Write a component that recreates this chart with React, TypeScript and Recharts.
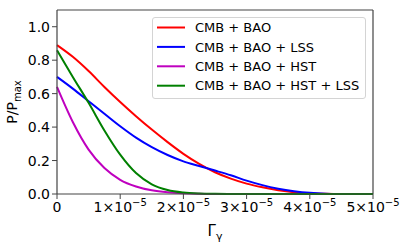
import React from 'react';
import { LineChart, Line, XAxis, YAxis, Legend, ReferenceLine, Label } from 'recharts';

// Γγ grid (step 0.25e-5)
const gammaValues = [
  0, 0.25e-5, 0.5e-5, 0.75e-5, 1.0e-5, 1.25e-5, 1.5e-5, 1.75e-5, 2.0e-5, 2.25e-5, 2.5e-5,
  2.75e-5, 3.0e-5, 3.25e-5, 3.5e-5, 3.75e-5, 4.0e-5, 4.25e-5, 4.5e-5, 4.75e-5, 5.0e-5,
];

const cmbBao = [
  0.89, 0.82, 0.735, 0.64, 0.55, 0.465, 0.385, 0.31, 0.24, 0.18, 0.13,
  0.092, 0.062, 0.04, 0.023, 0.011, 0.004, 0.001, 0, 0, 0,
];
const cmbBaoLss = [
  0.70, 0.63, 0.555, 0.48, 0.405, 0.337, 0.28, 0.233, 0.195, 0.167, 0.14,
  0.112, 0.08, 0.053, 0.032, 0.017, 0.007, 0.002, 0.0005, 0, 0,
];
const cmbBaoHst = [
  0.64, 0.43, 0.265, 0.155, 0.085, 0.045, 0.022, 0.01, 0.004, 0.001, 0,
  0, 0, 0, 0, 0, 0, 0, 0, 0, 0,
];
const cmbBaoHstLss = [
  0.86, 0.70, 0.545, 0.38, 0.235, 0.125, 0.058, 0.024, 0.009, 0.003, 0.001,
  0, 0, 0, 0, 0, 0, 0, 0, 0, 0,
];

const xTicks = [0, 1e-5, 2e-5, 3e-5, 4e-5, 5e-5];
const yTicks = [0, 0.2, 0.4, 0.6, 0.8, 1.0];

const series = [
  { key: 'cmbBao', name: 'CMB + BAO', color: '#ff0000' },
  { key: 'cmbBaoLss', name: 'CMB + BAO + LSS', color: '#0000ff' },
  { key: 'cmbBaoHst', name: 'CMB + BAO + HST', color: '#bf00bf' },
  { key: 'cmbBaoHstLss', name: 'CMB + BAO + HST + LSS', color: '#008000' },
];

const chartData = gammaValues.map((g, i) => ({
  gamma: g,
  cmbBao: cmbBao[i],
  cmbBaoLss: cmbBaoLss[i],
  cmbBaoHst: cmbBaoHst[i],
  cmbBaoHstLss: cmbBaoHstLss[i],
}));

const FONT = 'DejaVu Sans, sans-serif';
const AXIS = '#444';

const XTick = (props: any) => {
  const { x, y, payload } = props;
  const k = Math.round(payload.value * 1e5);
  return (
    <text x={x} y={y + 11} textAnchor="middle" fontFamily={FONT} fontSize={14} fill="#000">
      {k === 0 ? '0' : (
        <>
          {`${k}×10`}
          <tspan dy={-6} fontSize={10}>−5</tspan>
        </>
      )}
    </text>
  );
};

// keep legend in series order (recharts sorts the payload by name otherwise)
const renderLegend = () => (
  <div
    style={{
      width: 214,
      height: 82,
      boxSizing: 'border-box',
      border: '1px solid #d4d4d4',
      borderRadius: 3,
      background: 'rgba(255,255,255,0.85)',
    }}
  >
    <svg width={212} height={80}>
      {series.map((s, i) => {
        const cy = 9.5 + i * 19.4;
        return (
          <g key={s.key}>
            <line x1={4} x2={32} y1={cy} y2={cy} stroke={s.color} strokeWidth={2} />
            <text x={42} y={cy} dy="0.36em" fontFamily={FONT} fontSize={13} fill="#000">
              {s.name}
            </text>
          </g>
        );
      })}
    </svg>
  </div>
);

export default function App() {
  return (
    <div style={{ position: 'absolute', left: 0, top: 0, width: 409, height: 250, background: '#fff' }}>
      <LineChart
        width={409}
        height={250}
        data={chartData}
        margin={{ top: 10, right: 36, bottom: 26, left: 7 }}
      >
        <XAxis
          dataKey="gamma"
          type="number"
          domain={[0, 5e-5]}
          ticks={xTicks}
          interval={0}
          height={30}
          tick={<XTick />}
          tickSize={5}
          stroke={AXIS}
          axisLine={{ stroke: AXIS, strokeWidth: 1.2 }}
          tickLine={{ stroke: AXIS }}
        >
          <Label
            content={(lp: any) => {
              const vb = lp.viewBox || { x: 57, y: 194, width: 316 };
              const cx = vb.x + vb.width / 2;
              return (
                <text x={cx} y={236} textAnchor="middle" fontFamily={FONT} fontSize={15} fill="#000">
                  Γ<tspan dy={4} fontSize={11}>γ</tspan>
                </text>
              );
            }}
          />
        </XAxis>
        <YAxis
          type="number"
          domain={[0, 1.1]}
          ticks={yTicks}
          interval={0}
          width={50}
          tickSize={5}
          tickFormatter={(v: number) => v.toFixed(1)}
          tick={{ fontFamily: FONT, fontSize: 14, fill: '#000' }}
          stroke={AXIS}
          axisLine={{ stroke: AXIS, strokeWidth: 1.2 }}
          tickLine={{ stroke: AXIS }}
        >
          <Label
            content={() => (
              <text
                x={17}
                y={102}
                transform="rotate(-90, 17, 102)"
                textAnchor="middle"
                fontFamily={FONT}
                fontSize={14}
                fill="#000"
              >
                P/P<tspan dy={4} fontSize={10}>max</tspan>
              </text>
            )}
          />
        </YAxis>
        <ReferenceLine y={1.1} stroke={AXIS} strokeWidth={1.2} />
        <ReferenceLine x={5e-5} stroke={AXIS} strokeWidth={1.2} />
        <Legend
          layout="vertical"
          align="center"
          verticalAlign="middle"
          content={renderLegend}
          wrapperStyle={{ position: 'absolute', left: 152, top: 17, width: 214, height: 82 }}
        />
        {series.map((s) => (
          <Line
            key={s.key}
            type="monotone"
            dataKey={s.key}
            name={s.name}
            stroke={s.color}
            strokeWidth={2}
            dot={false}
            isAnimationActive={false}
          />
        ))}
      </LineChart>
    </div>
  );
}
